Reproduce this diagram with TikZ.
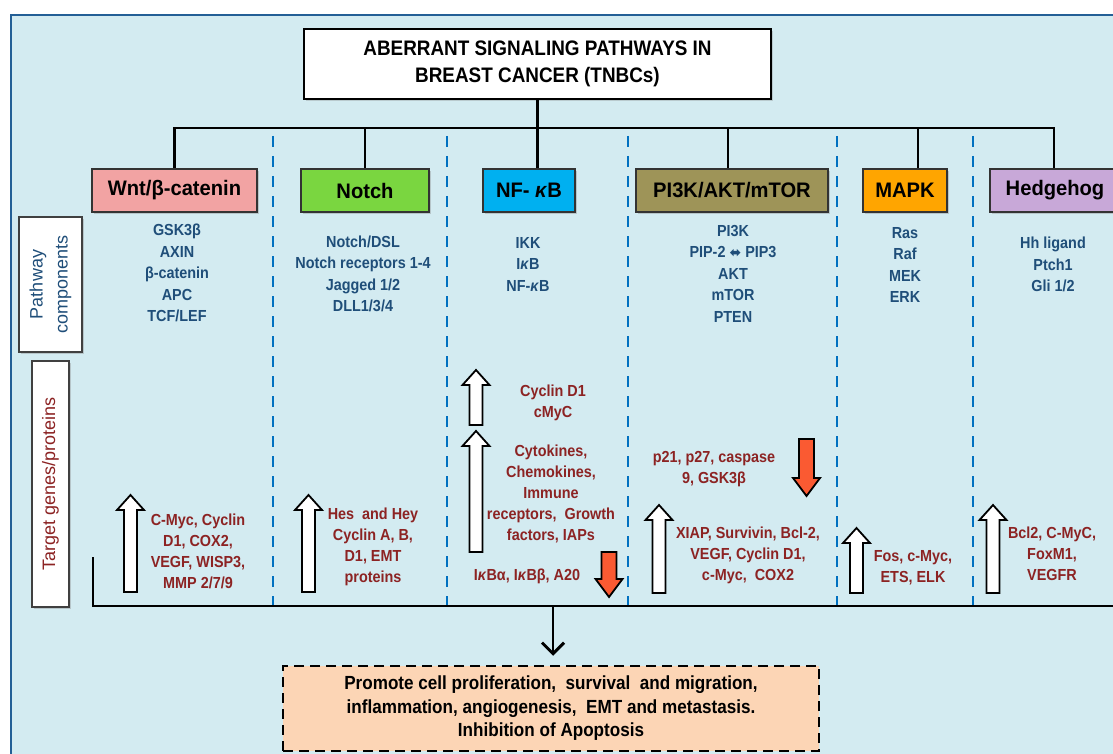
\documentclass[tikz,border=0pt]{standalone}
\usepackage{fontspec}
\setmainfont[FakeStretch=0.9]{Liberation Sans}
\newfontfamily\hdfont[FakeStretch=0.96]{Liberation Sans}
\newfontfamily\regfont{Liberation Sans}
\newfontfamily\symfont{DejaVu Sans}
\usetikzlibrary{arrows.meta,shadows}
\definecolor{bg}{RGB}{211,235,241}
\definecolor{framec}{RGB}{35,95,150}
\definecolor{sepc}{RGB}{0,112,192}
\definecolor{compblue}{RGB}{31,78,121}
\definecolor{tgtred}{RGB}{140,35,35}
\definecolor{wntc}{RGB}{242,163,163}
\definecolor{notchc}{RGB}{122,214,64}
\definecolor{nfkbc}{RGB}{0,176,240}
\definecolor{pikc}{RGB}{158,148,88}
\definecolor{mapkc}{RGB}{255,165,0}
\definecolor{hhc}{RGB}{200,168,216}
\definecolor{peach}{RGB}{252,213,181}
\definecolor{redarr}{RGB}{250,90,50}
\newcommand{\blockup}[4]{%
  \filldraw[fill=#4,draw=black,line width=1.8pt,line join=miter]
  (#1-6.5,#3) -- (#1-6.5,#2+15) -- (#1-13.5,#2+15) -- (#1,#2) -- (#1+13.5,#2+15) -- (#1+6.5,#2+15) -- (#1+6.5,#3) -- cycle;}
\newcommand{\blockdown}[4]{%
  \filldraw[fill=#4,draw=black,line width=1.8pt,line join=miter]
  (#1-7.5,#2) -- (#1-7.5,#3-18) -- (#1-13.5,#3-18) -- (#1,#3) -- (#1+13.5,#3-18) -- (#1+7.5,#3-18) -- (#1+7.5,#2) -- cycle;}
\tikzset{
  conn/.style={line width=2.5pt,black},
  sep/.style={line width=2.7pt,sepc,dash pattern=on 11pt off 9pt},
  hdr/.style={draw=black!80,line width=1.5pt,minimum height=43,inner sep=0pt,
    font=\hdfont\bfseries\fontsize{21}{24}\selectfont,
    drop shadow={opacity=0.35,shadow xshift=2pt,shadow yshift=-2pt}},
  comp/.style={text=compblue,font=\bfseries\fontsize{16}{21.5}\selectfont,align=center,inner sep=0pt},
  tgt/.style={text=tgtred,font=\bfseries\fontsize{16}{21}\selectfont,align=center,inner sep=0pt},
  lblbox/.style={draw=black!75,line width=1.5pt,fill=white,inner sep=0pt,align=center,
    font=\regfont\fontsize{18}{25}\selectfont,
    drop shadow={opacity=0.35,shadow xshift=2pt,shadow yshift=-2pt}},
  titlebox/.style={draw=black,line width=2.5pt,fill=white,align=center,inner sep=0pt,
    minimum width=467,minimum height=70,font=\bfseries\fontsize{21}{27}\selectfont,
    drop shadow={opacity=0.3,shadow xshift=2pt,shadow yshift=-2pt}},
  resbox/.style={draw=black,line width=2.5pt,dash pattern=on 10pt off 6pt,fill=peach,
    align=center,inner sep=0pt,minimum width=536,minimum height=85,
    font=\bfseries\fontsize{19}{23.5}\selectfont}
}
\begin{document}
\begin{tikzpicture}[x=1pt,y=-1pt]
\useasboundingbox (0,0) rectangle (1113,754);
\fill[white] (0,0) rectangle (1113,754);
\fill[bg] (10,15) rectangle (1113,754);
\draw[framec,line width=2pt] (11,754) -- (11,15) -- (1113,15);

% title
\node[titlebox] (title) at (537.5,64) {ABERRANT SIGNALING PATHWAYS IN\\BREAST CANCER (TNBCs)};

% headers
\node[hdr,fill=wntc,minimum width=165] (wnt) at (174.5,190.5) {Wnt/β-catenin};
\node[hdr,fill=notchc,minimum width=128] (notch) at (365,190.5) {Notch};
\node[hdr,fill=nfkbc,minimum width=92] (nfkb) at (529,190.5) {NF- \textit{κ}B};
\node[hdr,fill=pikc,minimum width=192] (pik) at (732,190.5) {PI3K/AKT/mTOR};
\node[hdr,fill=mapkc,minimum width=84] (mapk) at (905,190.5) {MAPK};
\node[hdr,fill=hhc,minimum width=130] (hh) at (1055,190.5) {Hedgehog};

% tree connectors
\coordinate (hub) at (537,128);
\draw[conn] (title.south) -- (title.south |- nfkb.north);
\draw[conn] (wnt.north) |- (hub) -| ([xshift=-1pt]hh.north);
\draw[conn] (hub -| notch.north) -- (notch.north);
\draw[conn] ([xshift=-4pt]pik.north |- hub) -- ([xshift=-4pt]pik.north);
\draw[conn] ([xshift=13pt]mapk.north |- hub) -- ([xshift=13pt]mapk.north);

% separators
\foreach \sx in {273,447,628,837,973} \draw[sep] (\sx,136) -- (\sx,606);

% side labels
\node[lblbox,text=compblue,minimum width=135,minimum height=63,rotate=90] (pclbl) at (50.5,284.5) {Pathway\\components};
\node[lblbox,text=tgtred,minimum width=246,minimum height=37,rotate=90] (tglbl) at (50.5,484) {Target genes/proteins};

% components
\node[comp] (wntcomp) at (177,273) {GSK3β\\AXIN\\β-catenin\\APC\\TCF/LEF};
\node[comp] (notchcomp) at (363,274) {Notch/DSL\\Notch receptors 1-4\\Jagged 1/2\\DLL1/3/4};
\node[comp] (nfkbcomp) at (528,264) {IKK\\I\textit{κ}B\\NF-\textit{κ}B};
\node[comp] (pikcomp) at (733,273.5) {PI3K\\PIP-2 {\symfont\bfseries\fontsize{14}{14}\selectfont ⬌} PIP3\\AKT\\mTOR\\PTEN};
\node[comp] (mapkcomp) at (905,265) {Ras\\Raf\\MEK\\ERK};
\node[comp] (hhcomp) at (1053,264.5) {Hh ligand\\Ptch1\\Gli 1/2};

% target genes
\node[tgt] (wnttgt) at (198,551) {C-Myc, Cyclin\\D1, COX2,\\VEGF, WISP3,\\MMP 2/7/9};
\node[tgt] (notchtgt) at (373,546.5) {Hes~ and Hey\\Cyclin A, B,\\D1, EMT\\proteins};
\node[tgt] (nfkbtgta) at (553,403) {Cyclin D1\\cMyC};
\node[tgt] (nfkbtgtb) at (551,493.5) {Cytokines,\\Chemokines,\\Immune\\receptors,~ Growth\\factors, IAPs};
\node[tgt] (nfkbtgtc) at (527,576) {I\textit{κ}Bα, I\textit{κ}Bβ, A20};
\node[tgt] (piktgta) at (714,469.5) {p21, p27, caspase\\9, GSK3β};
\node[tgt] (piktgtb) at (748,555.5) {XIAP, Survivin, Bcl-2,\\VEGF, Cyclin D1,\\c-Myc,~ COX2};
\node[tgt] (mapktgt) at (913,568) {Fos, c-Myc,\\ETS, ELK};
\node[tgt] (hhtgt) at (1052,554) {Bcl2, C-MyC,\\FoxM1,\\VEGFR};

% block arrows
\blockup{130.5}{495}{592}{white}
\blockup{308.5}{495}{592}{white}
\blockup{476}{370}{425}{white}
\blockup{476}{431}{552}{white}
\blockdown{609}{552}{597}{redarr}
\blockdown{806.5}{439}{496}{redarr}
\blockup{659}{505}{593}{white}
\blockup{856.5}{528}{593}{white}
\blockup{993}{505}{593}{white}

% bottom collector
\coordinate (bstart) at (93,557);
\coordinate (bend) at (1113,606);
\coordinate (drop) at (553,606);
\draw[conn] (bstart) |- (bend);

% result
\node[resbox] (result) at (551,708.5) {Promote cell proliferation,~ survival~ and migration,\\inflammation, angiogenesis,~ EMT and metastasis.\\Inhibition of Apoptosis};
\draw[conn,-{Straight Barb[length=11pt,width=22pt,line width=3pt]},shorten >=9pt] (drop) -- (drop |- result.north);
\end{tikzpicture}
\end{document}
